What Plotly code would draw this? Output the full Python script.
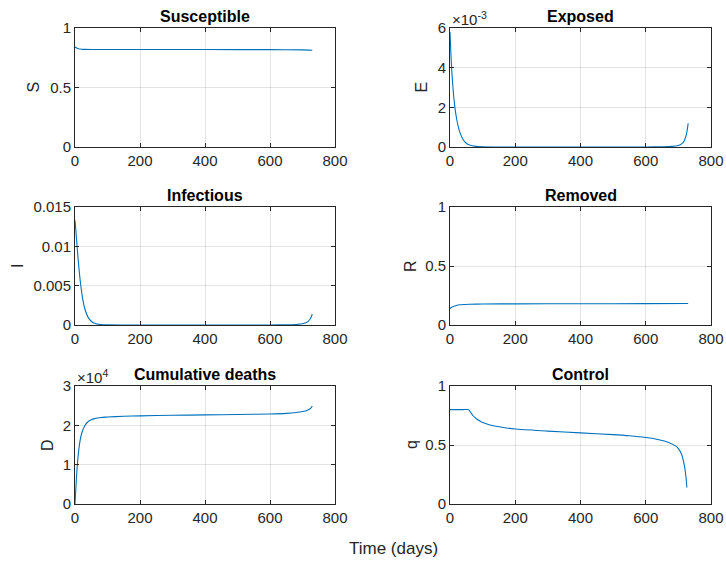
import plotly.graph_objects as go

# ---- data ----
t_S = [0, 5, 10, 20, 30, 50, 100, 200, 400, 600, 700, 730]
S = [0.840, 0.832, 0.826, 0.822, 0.820, 0.819, 0.819, 0.819, 0.819, 0.818, 0.816, 0.813]

t_E = [0, 3, 6, 10, 15, 20, 25, 30, 40, 50, 60, 80, 100, 150, 300, 500, 600, 650, 680, 700, 710, 718, 724, 728, 730]
E = [5.8e-3, 4.6e-3, 3.7e-3, 2.8e-3, 2.0e-3, 1.45e-3, 1.05e-3, 0.75e-3, 0.38e-3, 0.19e-3, 0.10e-3, 0.03e-3,
     0.01e-3, 0.0, 0.0, 0.0, 0.003e-3, 0.01e-3, 0.03e-3, 0.08e-3, 0.16e-3, 0.32e-3, 0.6e-3, 0.95e-3, 1.2e-3]

t_I = [0, 3, 6, 10, 15, 20, 25, 30, 40, 50, 60, 80, 100, 150, 300, 500, 600, 650, 680, 700, 710, 718, 724, 728, 730]
I = [0.0133, 0.0118, 0.0102, 0.0082, 0.0060, 0.0043, 0.0030, 0.0021, 0.0010, 0.00048, 0.00022, 0.00005,
     0.00001, 0.0, 0.0, 0.0, 0.000005, 0.00002, 0.00006, 0.00015, 0.00028, 0.00050, 0.00080, 0.00115, 0.00140]

t_R = [0, 5, 10, 20, 30, 40, 60, 100, 200, 400, 600, 730]
R = [0.140, 0.150, 0.157, 0.166, 0.171, 0.174, 0.176, 0.178, 0.179, 0.180, 0.181, 0.182]

t_D = [0, 2, 5, 10, 15, 20, 30, 40, 50, 60, 80, 100, 150, 200, 300, 400, 500, 600, 650, 680, 700, 715, 725, 730]
D = [0, 3000, 7500, 12500, 15800, 17800, 19900, 20900, 21400, 21700, 22000, 22100, 22300, 22400, 22550,
     22650, 22750, 22900, 23050, 23250, 23500, 23850, 24300, 24900]

t_q = [0, 20, 40, 55, 60, 65, 70, 80, 90, 100, 120, 150, 200, 300, 400, 500, 550, 600, 640, 670, 690, 700, 710, 716, 720, 724, 726]
q = [0.80, 0.80, 0.80, 0.80, 0.79, 0.77, 0.75, 0.725, 0.705, 0.69, 0.672, 0.655, 0.635, 0.618, 0.603,
     0.588, 0.578, 0.563, 0.545, 0.522, 0.495, 0.47, 0.42, 0.36, 0.30, 0.21, 0.14]

x_ticks = [0, 200, 400, 600, 800]
panels = [
    # (title, ylabel, t, y, yscale, ytick vals, ytick text, exponent label)
    ("Susceptible", "S", t_S, S, 1.0, [0, 0.5, 1], ["0", "0.5", "1"], None),
    ("Exposed", "E", t_E, E, 1e-3, [0, 2, 4, 6], ["0", "2", "4", "6"], "×10<sup>-3</sup>"),
    ("Infectious", "I", t_I, I, 1.0, [0, 0.005, 0.01, 0.015], ["0", "0.005", "0.01", "0.015"], None),
    ("Removed", "R", t_R, R, 1.0, [0, 0.5, 1], ["0", "0.5", "1"], None),
    ("Cumulative deaths", "D", t_D, D, 1e4, [0, 1, 2, 3], ["0", "1", "2", "3"], "×10<sup>4</sup>"),
    ("Control", "q", t_q, q, 1.0, [0, 0.5, 1], ["0", "0.5", "1"], None),
]

W, H = 726, 561
col_px = [(75, 335), (450, 711)]
row_px = [(28, 147), (207, 325), (386, 504)]
ylabel_px = [33, 421, 17, 410, 47, 411]

FONT = "Liberation Sans, Arial, Helvetica, sans-serif"
INK = "#262626"
GRID = "rgba(38,38,38,0.13)"
LINE = "#0072BD"

fig = go.Figure()
layout = {}
annotations = []
for k, (title, ylab, tt, yy, sc, yv, yt, expo) in enumerate(panels):
    r, c = divmod(k, 2)
    n = k + 1
    xa = "x" if n == 1 else f"x{n}"
    ya = "y" if n == 1 else f"y{n}"
    fig.add_trace(go.Scatter(x=tt, y=[v / sc for v in yy], mode="lines",
                             line=dict(color=LINE, width=1.1, shape="spline", smoothing=0.6),
                             xaxis=xa, yaxis=ya, showlegend=False, hoverinfo="skip"))
    x0, x1 = col_px[c]
    y0, y1 = row_px[r]
    xd = [x0 / W, x1 / W]
    yd = [1 - y1 / H, 1 - y0 / H]
    common = dict(showline=True, linecolor=INK, linewidth=1, mirror="ticks", ticks="inside",
                  ticklen=4, tickcolor=INK, showgrid=True, gridcolor=GRID, gridwidth=1,
                  zeroline=False, automargin=False,
                  tickfont=dict(family=FONT, size=15, color=INK))
    layout["xaxis" if n == 1 else f"xaxis{n}"] = dict(
        domain=xd, range=[0, 800], tickvals=x_ticks, ticktext=[str(v) for v in x_ticks],
        anchor=ya, **common)
    layout["yaxis" if n == 1 else f"yaxis{n}"] = dict(
        domain=yd, range=[yv[0], yv[-1]], tickvals=yv, ticktext=yt, anchor=xa, **common)
    annotations.append(dict(text=f"<b>{title}</b>", x=(xd[0] + xd[1]) / 2, y=yd[1],
                            xref="paper", yref="paper", xanchor="center", yanchor="bottom",
                            yshift=1, showarrow=False,
                            font=dict(family=FONT, size=16, color="black")))
    annotations.append(dict(text=ylab, x=ylabel_px[k] / W, y=(yd[0] + yd[1]) / 2,
                            xref="paper", yref="paper", xanchor="center", yanchor="middle",
                            textangle=-90, showarrow=False,
                            font=dict(family=FONT, size=16, color=INK)))
    if expo:
        annotations.append(dict(text=expo, x=xd[0], y=yd[1], xref="paper", yref="paper",
                                xanchor="left", yanchor="bottom", yshift=-2, showarrow=False,
                                font=dict(family=FONT, size=15, color=INK)))

annotations.append(dict(text="Time (days)", x=393 / W, y=1 - 548 / H,
                        xref="paper", yref="paper",
                        xanchor="center", yanchor="middle", showarrow=False,
                        font=dict(family=FONT, size=17, color=INK)))

fig.update_layout(width=W, height=H, margin=dict(l=0, r=0, t=0, b=0, autoexpand=False),
                  paper_bgcolor="white", plot_bgcolor="white", hovermode=False,
                  annotations=annotations, **layout)
fig.write_html("out.html", config={"displayModeBar": False, "staticPlot": True},
               post_script="document.body.style.margin='0';document.body.style.overflow='hidden';")
